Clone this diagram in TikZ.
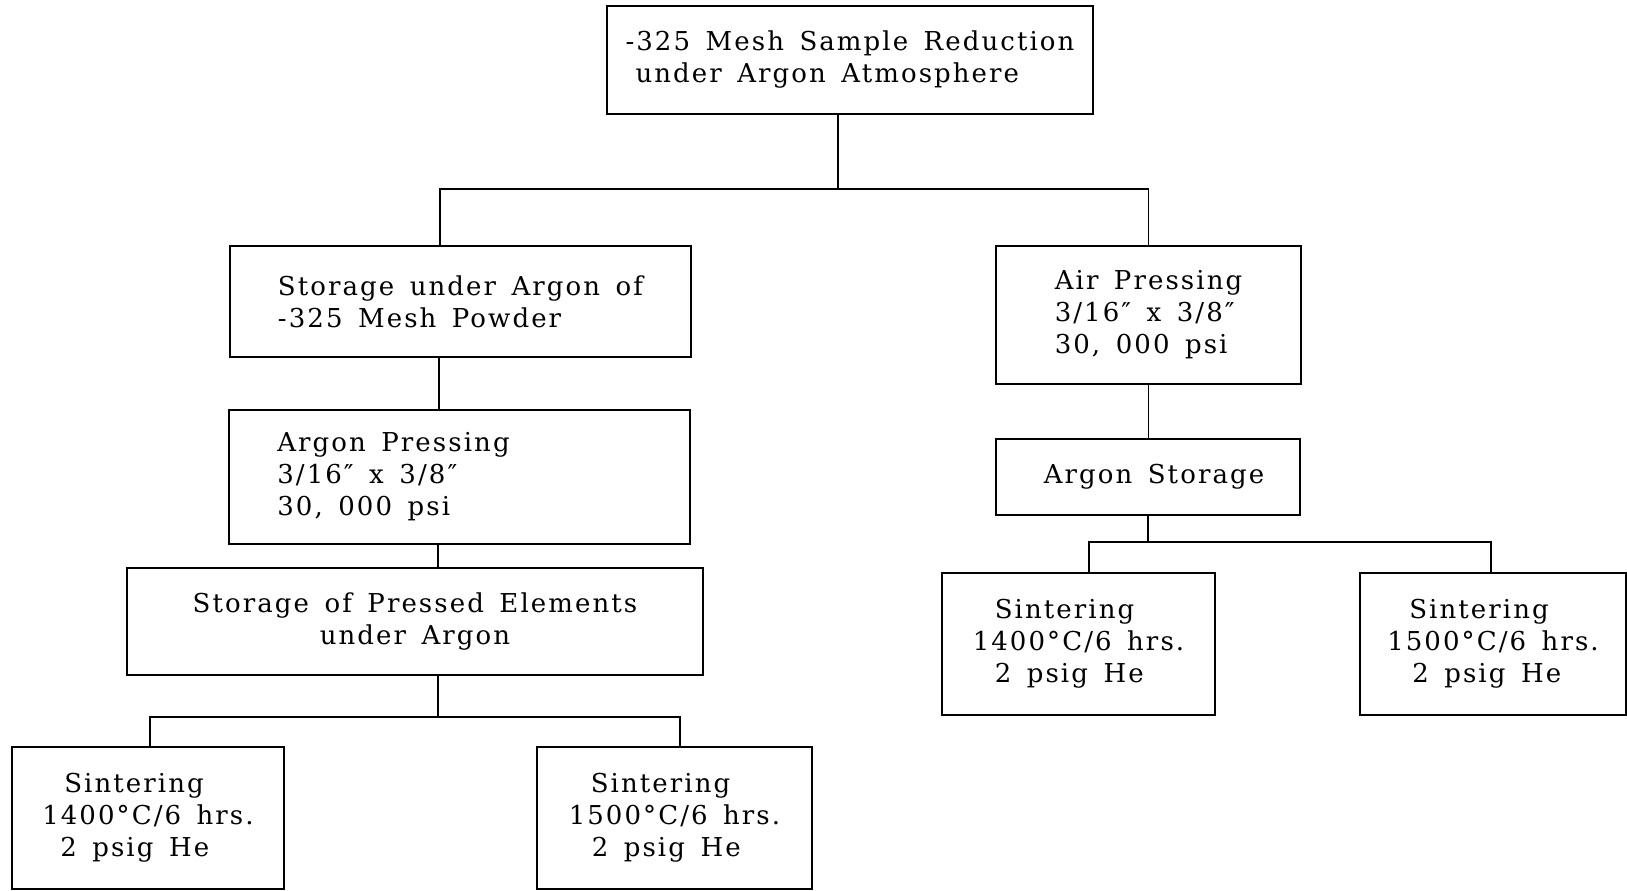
\documentclass[tikz,border=0pt]{standalone}
\usepackage{fontspec}
\setmainfont{DejaVu Serif}[LetterSpace=8,WordSpace=1.5]
\usepackage{tikz}

\begin{document}
\begin{tikzpicture}[x=1pt,y=-1pt,
  stage/.style={draw,line width=1.6pt,align=left,inner sep=0pt,font=\fontsize{26}{32}\selectfont},
  link/.style={line width=1.4pt}]
\useasboundingbox (0,0) rectangle (1627,891);
\node[stage,minimum width=486pt,minimum height=108pt] (mesh) at (850,60) {-325 Mesh Sample Reduction\\\hspace*{10pt}under Argon Atmosphere};
\node[stage,minimum width=461pt,minimum height=111pt] (stor) at (460.5,301.5) {Storage under Argon of\\-325 Mesh Powder};
\node[stage,minimum width=461pt,minimum height=134pt] (apress) at (459.5,477) {Argon Pressing\hspace*{132pt}\\3/16″ x 3/8″\\30, 000 psi};
\node[stage,minimum width=576pt,minimum height=107pt,align=center] (pstor) at (415,621.5) {Storage of Pressed Elements\\under Argon};
\node[stage,minimum width=272pt,minimum height=142pt] (sinA) at (148,818) {\hspace*{22pt}Sintering\\1400°C/6 hrs.\\\hspace*{18pt}2 psig He};
\node[stage,minimum width=275pt,minimum height=142pt] (sinB) at (674.5,818) {\hspace*{22pt}Sintering\\1500°C/6 hrs.\\\hspace*{23pt}2 psig He};
\node[stage,minimum width=305pt,minimum height=138pt] (air) at (1148.5,315) {Air Pressing\\3/16″ x 3/8″\\30, 000 psi};
\node[stage,minimum width=304pt,minimum height=76pt] (astor) at (1148,477) {\hspace*{12pt}Argon Storage};
\node[stage,minimum width=273pt,minimum height=142pt] (sinC) at (1078.5,644) {\hspace*{22pt}Sintering\\1400°C/6 hrs.\\\hspace*{22pt}2 psig He};
\node[stage,minimum width=266pt,minimum height=142pt] (sinD) at (1493,644) {\hspace*{22pt}Sintering\\1500°C/6 hrs.\\\hspace*{25pt}2 psig He};
\coordinate (bus1) at (838,189);
\coordinate (bus2) at (438,717);
\coordinate (bus3) at (1148,542);
\draw[link] (mesh.south -| bus1) -- (bus1);
\draw[link] ([xshift=-20.5pt]stor.north) |- (bus1);
\draw[link] (air.north) |- (bus1);
\draw[link] ([xshift=-21.5pt]stor.south) -- ([xshift=-21.5pt]stor.south |- apress.north);
\draw[link] ([xshift=23pt]pstor.north |- apress.south) -- ([xshift=23pt]pstor.north);
\draw[link] (pstor.south -| bus2) -- (bus2);
\draw[link] ([xshift=2pt]sinA.north) |- (bus2);
\draw[link] ([xshift=5.5pt]sinB.north) |- (bus2);
\draw[link] (air.south) -- (air.south |- astor.north);
\draw[link] (astor.south -| bus3) -- (bus3);
\draw[link] ([xshift=10.5pt]sinC.north) |- (bus3);
\draw[link] ([xshift=-2pt]sinD.north) |- (bus3);
\end{tikzpicture}
\end{document}
